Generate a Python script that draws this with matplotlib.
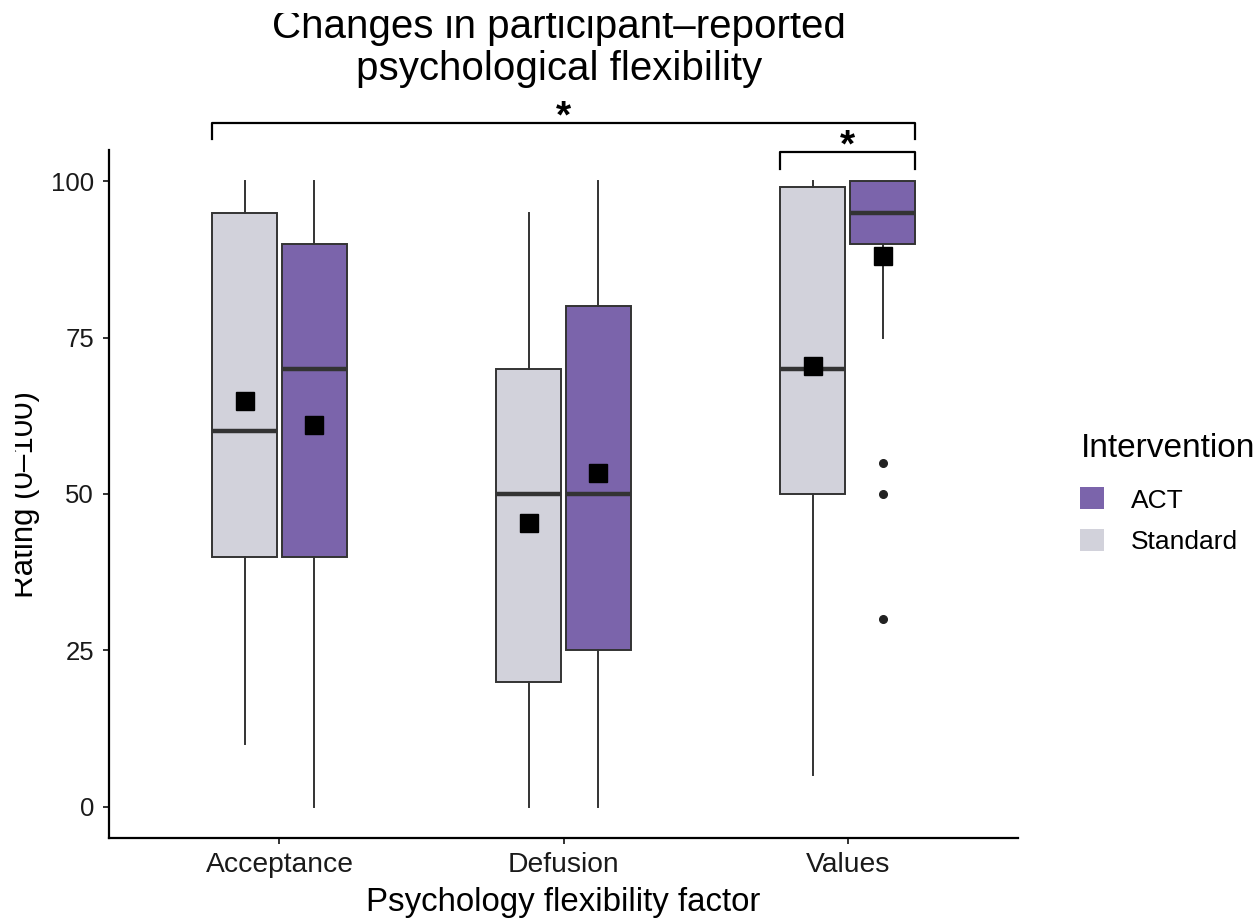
import matplotlib
matplotlib.use('Agg')
from matplotlib import pyplot as plt
from matplotlib.patches import Patch
from matplotlib.transforms import Bbox

plt.rcParams['font.family'] = ['Liberation Sans', 'DejaVu Sans']

factors = ['Acceptance', 'Defusion', 'Values']
groups = ['Standard', 'ACT']
colors = {'ACT': '#7B64AB', 'Standard': '#D2D2DB'}

# box summaries per group, one value per factor
standard_low = [10, 0, 5]
standard_q1 = [40, 20, 50]
standard_med = [60, 50, 70]
standard_q3 = [95, 70, 99]
standard_high = [100, 95, 100]
standard_mean = [64.8, 45.4, 70.5]
standard_out = [[], [], []]

act_low = [0, 0, 75]
act_q1 = [40, 25, 90]
act_med = [70, 50, 95]
act_q3 = [90, 80, 100]
act_high = [100, 100, 100]
act_mean = [61.1, 53.4, 88.0]
act_out = [[], [], [55, 50, 30]]

data = {
    'Standard': (standard_low, standard_q1, standard_med, standard_q3, standard_high, standard_mean, standard_out),
    'ACT': (act_low, act_q1, act_med, act_q3, act_high, act_mean, act_out),
}
offsets = {'Standard': -0.123, 'ACT': 0.123}
box_width = 0.228

W, H = 1255, 924
fig = plt.figure(figsize=(W / 100, H / 100), dpi=100)
ax = fig.add_axes([0.0869, 0.0931, 0.7243, 0.7446])

for g in groups:
    low, q1, med, q3, high, mean, out = data[g]
    stats = []
    for i in range(len(factors)):
        stats.append({'whislo': low[i], 'q1': q1[i], 'med': med[i], 'q3': q3[i],
                      'whishi': high[i], 'mean': mean[i], 'fliers': out[i]})
    pos = [i + 1 + offsets[g] for i in range(len(factors))]
    ax.bxp(stats, positions=pos, widths=box_width, patch_artist=True,
           showcaps=False, showmeans=True, showfliers=True,
           boxprops=dict(facecolor=colors[g], edgecolor='#333333', linewidth=1.4),
           whiskerprops=dict(color='#333333', linewidth=1.4),
           medianprops=dict(color='#333333', linewidth=3.2),
           meanprops=dict(marker='s', markerfacecolor='black', markeredgecolor='black', markersize=12.5),
           flierprops=dict(marker='o', markerfacecolor='#222222', markeredgecolor='#222222', markersize=5.5))

ax.set_xlim(0.4, 3.6)
ax.set_ylim(-5, 105)
ax.set_xticks([1, 2, 3])
ax.set_xticklabels(factors)
ax.set_yticks([0, 25, 50, 75, 100])
ax.tick_params(length=4.3, width=1.4, color='#333333', labelcolor='#1a1a1a')
ax.tick_params(axis='x', labelsize=20.3, pad=6)
ax.tick_params(axis='y', labelsize=18.5, pad=6.5)
for s in ['top', 'right']:
    ax.spines[s].set_visible(False)
for s in ['left', 'bottom']:
    ax.spines[s].set_linewidth(1.6)
    ax.spines[s].set_color('black')

ax.set_xlabel('Psychology flexibility factor', fontsize=23.8, labelpad=6)

# y label sits at the left edge, partly cut off
ylab = fig.text(33 / W, 1 - 495 / H, 'Rating (0\u2013100)', rotation=90, rotation_mode='anchor',
                ha='center', va='baseline', fontsize=22.5)

# significance brackets
def bracket(x0, x1, y, drop, label):
    ax.plot([x0, x0, x1, x1], [y - drop, y, y, y - drop], color='black', lw=1.6, clip_on=False)
    ax.text((x0 + x1) / 2, y + 0.9, label, ha='center', va='center', fontsize=28,
            fontweight='bold', clip_on=False)

left_edge = 1 + offsets['Standard'] - box_width / 2
right_edge = 3 + offsets['ACT'] + box_width / 2
vals_left = 3 + offsets['Standard'] - box_width / 2
bracket(left_edge, right_edge, 109.3, 2.6, '*')
bracket(vals_left, right_edge, 104.6, 2.7, '*')

t1 = fig.text(559 / W, 1 - 38 / H, 'Changes in participant\u2013reported',
              ha='center', va='baseline', fontsize=29)
t2 = fig.text(559 / W, 1 - 80 / H, 'psychological flexibility',
              ha='center', va='baseline', fontsize=29)

handles = [Patch(facecolor=colors['ACT'], edgecolor='none'),
           Patch(facecolor=colors['Standard'], edgecolor='none')]
leg = fig.legend(handles, ['ACT', 'Standard'], title='Intervention', loc='center left',
                 bbox_to_anchor=(0.842, 0.466), frameon=False, fontsize=19,
                 title_fontsize=24, handlelength=0.9, handleheight=0.9,
                 handletextpad=1.0, labelspacing=0.62)
leg._legend_box.align = 'left'
leg._legend_box.sep = 17

t1.set_clip_box(Bbox([[0, 0], [W, H - 13]]))
t1.set_clip_on(True)
ylab.set_clip_box(Bbox([[15, 0], [W, H]]))
ylab.set_clip_on(True)

fig.savefig('out.png', dpi=100)
